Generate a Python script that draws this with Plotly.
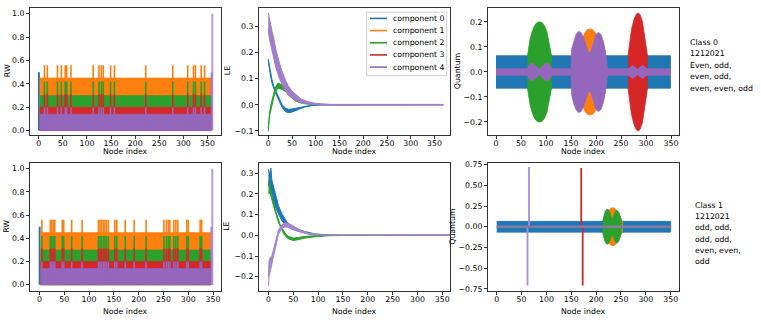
import plotly.graph_objects as go

W, H = 761, 322
FONT = "DejaVu Sans"
FS = 7.8
BLUE, ORANGE, GREEN, RED, PURPLE = "#1f77b4", "#ff7f0e", "#2ca02c", "#d62728", "#9467bd"

COMPONENTS = ["component 0", "component 1", "component 2", "component 3", "component 4"]
COMP_COLORS = [BLUE, ORANGE, GREEN, RED, PURPLE]
X_TICKS = [0, 50, 100, 150, 200, 250, 300, 350]

# ---------------- RW (random walk) panels ----------------
RW_BAND_COLORS = [ORANGE, GREEN, RED, PURPLE]
RW_BAND_TOP = [0.45, 0.30, 0.20, 0.14]
RW_SPIKE_TOP = [0.56, 0.42, 0.31, 0.20]

RW0_SPAN = [2, 357.5]
RW0_SPIKES = [12, 18, 39, 47, 55, 58, 67, 113, 125, 130, 134, 149, 157,
              222, 278, 309, 321, 325, 337, 344]
RW0_START = [0.5, 0.5]            # node, value of component 0 at start
RW0_END_X = [358.5, 360]
RW0_END_Y = [0.5, 1.0]

RW1_SPAN = [2, 345]
RW1_SPIKES = [5, 22, 25, 28, 31, 46, 49, 65, 86, 119, 122, 125, 129, 132, 135,
              139, 152, 156, 173, 191, 215, 251, 256, 260, 263, 271, 275, 279,
              297, 300, 324, 327]
RW1_START = [0.5, 0.5]
RW1_END_X = [346.5, 348.5]
RW1_END_Y = [0.5, 1.0]

# ---------------- LE (Laplacian eigenvector) panels ----------------
LE0_C0_X = [0, 2, 5, 8, 12, 16, 22, 29, 36, 42, 50, 58, 66, 78, 92, 113, 150, 368]
LE0_C0_HI = [0.175, 0.152, 0.125, 0.094, 0.07, 0.052, 0.026, 0.0, -0.012, -0.017, -0.016,
             -0.013, -0.010, -0.004, -0.001, 0.001, 0.001, 0.001]
LE0_C0_LO = [0.165, 0.135, 0.108, 0.082, 0.06, 0.042, 0.016, -0.010, -0.026, -0.030, -0.028,
             -0.022, -0.016, -0.008, -0.003, -0.001, -0.001, -0.001]

LE0_C2_X = [0, 1.5, 3, 5.5, 8, 10.5, 13, 16, 19, 22, 26, 30, 34, 38, 42, 48, 56, 66, 77, 98, 130, 368]
LE0_C2_HI = [-0.09, -0.05, -0.025, 0.0, 0.02, 0.036, 0.055, 0.07, 0.08, 0.082, 0.078, 0.074,
             0.072, 0.062, 0.05, 0.037, 0.025, 0.015, 0.009, 0.003, 0.001, 0.001]
LE0_C2_LO = [-0.102, -0.068, -0.04, -0.016, 0.004, 0.02, 0.038, 0.052, 0.06, 0.062, 0.06, 0.058,
             0.054, 0.048, 0.038, 0.027, 0.016, 0.008, 0.004, 0.0, -0.001, -0.001]

LE0_C4_X = [0, 2, 4.5, 8, 12, 16, 22, 28, 36, 42, 50, 60, 70, 85, 98, 115, 132, 368]
LE0_C4_HI = [0.352, 0.33, 0.313, 0.28, 0.25, 0.21, 0.17, 0.132, 0.095, 0.072, 0.052, 0.035,
             0.021, 0.011, 0.006, 0.003, 0.0015, 0.0015]
LE0_C4_LO = [0.29, 0.255, 0.225, 0.2, 0.172, 0.142, 0.108, 0.082, 0.054, 0.038, 0.026, 0.016,
             0.008, 0.003, 0.0005, -0.001, -0.0015, -0.0015]

LE1_C0_X = [0, 2.5, 5, 6.7, 10, 13.4, 17, 20, 27, 37, 45, 54, 64, 74, 94, 121, 150, 366]
LE1_C0_HI = [0.32, 0.295, 0.325, 0.27, 0.238, 0.207, 0.172, 0.145, 0.105, 0.065, 0.048, 0.036,
             0.025, 0.018, 0.007, 0.002, 0.001, 0.001]
LE1_C0_LO = [0.25, 0.228, 0.22, 0.2, 0.172, 0.142, 0.12, 0.102, 0.07, 0.046, 0.034, 0.024,
             0.017, 0.011, 0.003, 0.0, -0.001, -0.001]

LE1_C2_X = [0, 3.4, 7, 10, 13.5, 16.8, 20, 23.5, 27, 30, 35, 40, 50, 60, 74, 94, 121, 150, 366]
LE1_C2_HI = [0.265, 0.222, 0.188, 0.157, 0.127, 0.101, 0.076, 0.053, 0.036, 0.022, 0.006, -0.005,
             -0.013, -0.011, -0.005, -0.002, 0.0, 0.001, 0.001]
LE1_C2_LO = [0.2, 0.205, 0.172, 0.143, 0.113, 0.089, 0.064, 0.041, 0.024, 0.01, -0.006, -0.017,
             -0.025, -0.021, -0.013, -0.007, -0.002, -0.001, -0.001]

LE1_C4_X = [0, 1.3, 3, 6.7, 10, 13.4, 17, 20, 24, 27, 30, 33.5, 37, 40, 47, 54, 60, 70, 80.5,
            95, 107, 134, 366]
LE1_C4_HI = [-0.2, -0.12, -0.11, -0.1, -0.07, -0.04, -0.008, 0.026, 0.04, 0.05, 0.056, 0.06,
             0.06, 0.058, 0.05, 0.038, 0.031, 0.02, 0.011, 0.006, 0.003, 0.001, 0.001]
LE1_C4_LO = [-0.245, -0.2, -0.17, -0.14, -0.1, -0.07, -0.03, 0.005, 0.02, 0.032, 0.038, 0.04,
             0.04, 0.038, 0.032, 0.024, 0.019, 0.011, 0.005, 0.002, 0.0, -0.001, -0.001]

# ---------------- Quantum panels (symmetric amplitude envelopes) ----------------
Q0_BLUE_X = [0, 349]
Q0_BLUE_A = [0.065, 0.065]
Q0_GREEN_X = [63, 65, 68, 72, 77, 82, 87, 92, 97, 102, 106, 109, 111]
Q0_GREEN_A = [0.065, 0.1, 0.13, 0.16, 0.185, 0.198, 0.2, 0.198, 0.185, 0.16, 0.12, 0.085, 0.065]
Q0_ORANGE_X = [168, 172, 177, 182, 188, 194, 199, 204, 208]
Q0_ORANGE_A = [0.06, 0.12, 0.155, 0.168, 0.172, 0.168, 0.155, 0.12, 0.06]
Q0_RED_X = [264, 267, 271, 276, 281, 284, 288, 293, 298, 301, 303]
Q0_RED_A = [0.065, 0.12, 0.17, 0.21, 0.232, 0.236, 0.23, 0.2, 0.14, 0.09, 0.065]
Q0_PURPLE_X = [0, 63, 66, 71, 76, 81, 87, 92, 97, 103, 108, 111, 150, 151, 156, 160, 165,
               170, 175, 180, 185, 190, 195, 200, 205, 210, 215, 219, 222, 224, 264, 268,
               273, 278, 283, 288, 293, 298, 302, 349]
Q0_PURPLE_A = [0.013, 0.013, 0.028, 0.035, 0.032, 0.022, 0.01, 0.022, 0.032, 0.035, 0.028,
               0.013, 0.013, 0.09, 0.13, 0.15, 0.162, 0.158, 0.14, 0.11, 0.078, 0.082, 0.12,
               0.15, 0.158, 0.15, 0.12, 0.08, 0.03, 0.013, 0.013, 0.02, 0.025, 0.02, 0.01,
               0.02, 0.025, 0.02, 0.013, 0.013]

Q1_BLUE_X = [0, 350]
Q1_BLUE_A = [0.065, 0.065]
Q1_ORANGE_X = [218, 222, 226, 230, 234, 238, 242, 247, 253]
Q1_ORANGE_A = [0.06, 0.14, 0.2, 0.225, 0.23, 0.22, 0.19, 0.13, 0.06]
Q1_GREEN_X = [213, 215, 218, 221, 225, 229, 232, 235, 239, 242, 246, 249, 251]
Q1_GREEN_A = [0.065, 0.12, 0.18, 0.21, 0.205, 0.15, 0.09, 0.13, 0.19, 0.2, 0.17, 0.12, 0.065]
Q1_PURPLE_X = [0, 350]
Q1_PURPLE_A = [0.01, 0.01]
Q1_SPIKE_COLORS = ["#a98bd3", RED]
Q1_SPIKE_UP_X = [65, 170]
Q1_SPIKE_UP_Y = [0.72, 0.71]
Q1_SPIKE_DN_X = [62, 173]
Q1_SPIKE_DN_Y = [-0.71, -0.71]

CLASS0_TEXT = ["Class 0", "1212021", "Even, odd,", "even, odd,", "even, even, odd"]
CLASS1_TEXT = ["Class 1", "1212021", "odd, odd,", "odd, odd,", "even, even,", "odd"]

# ---------------- layout geometry (pixels) ----------------
COL_L = [30, 259, 488]
COL_R = [221, 450, 679]
ROW_T = [5, 163]
ROW_B = [134, 293]
XLABEL_Y = [151, 314]


def px(x):
    return x / W


def py(y):
    return 1 - y / H


fig = go.Figure()


def ax_names(n):
    return ("x" if n == 1 else f"x{n}"), ("y" if n == 1 else f"y{n}")


def poly(n, x, hi, lo, color, width=1.0):
    xa, ya = ax_names(n)
    fig.add_trace(go.Scatter(
        x=list(x) + list(x)[::-1], y=list(hi) + list(lo)[::-1],
        mode="lines", fill="toself", fillcolor=color,
        line=dict(color=color, width=width),
        hoverinfo="skip", showlegend=False, xaxis=xa, yaxis=ya))


def lens(n, x, amp, color):
    poly(n, x, amp, [-a for a in amp], color, width=0.8)


def vlines(n, xs, y0s, y1s, color, width):
    xa, ya = ax_names(n)
    vx, vy = [], []
    for x, a, b in zip(xs, y0s, y1s):
        vx += [x, x, None]
        vy += [a, b, None]
    fig.add_trace(go.Scatter(x=vx, y=vy, mode="lines", line=dict(color=color, width=width),
                             hoverinfo="skip", showlegend=False, xaxis=xa, yaxis=ya))


def rw_panel(n, span, spikes, start, end_x, end_y):
    vlines(n, [start[0]], [0], [start[1]], BLUE, 2)
    for color, top, spike_top in zip(RW_BAND_COLORS, RW_BAND_TOP, RW_SPIKE_TOP):
        poly(n, span, [top, top], [0, 0], color, width=0.6)
        vlines(n, spikes, [0] * len(spikes), [spike_top] * len(spikes), color, 1.6)
    vlines(n, end_x, [0, 0], end_y, "rgba(148,103,189,0.65)", 2)


# panel 1 / 4: RW
rw_panel(1, RW0_SPAN, RW0_SPIKES, RW0_START, RW0_END_X, RW0_END_Y)
rw_panel(4, RW1_SPAN, RW1_SPIKES, RW1_START, RW1_END_X, RW1_END_Y)

# panel 2 / 5: LE
poly(2, LE0_C0_X, LE0_C0_HI, LE0_C0_LO, BLUE)
poly(2, LE0_C2_X, LE0_C2_HI, LE0_C2_LO, GREEN)
poly(2, LE0_C4_X, LE0_C4_HI, LE0_C4_LO, "#a07ccb")
poly(5, LE1_C0_X, LE1_C0_HI, LE1_C0_LO, BLUE)
poly(5, LE1_C2_X, LE1_C2_HI, LE1_C2_LO, GREEN)
poly(5, LE1_C4_X, LE1_C4_HI, LE1_C4_LO, "#a586cf")

# panel 3 / 6: Quantum
lens(3, Q0_BLUE_X, Q0_BLUE_A, BLUE)
lens(3, Q0_ORANGE_X, Q0_ORANGE_A, ORANGE)
lens(3, Q0_GREEN_X, Q0_GREEN_A, GREEN)
lens(3, Q0_RED_X, Q0_RED_A, RED)
lens(3, Q0_PURPLE_X, Q0_PURPLE_A, PURPLE)

lens(6, Q1_BLUE_X, Q1_BLUE_A, BLUE)
lens(6, Q1_ORANGE_X, Q1_ORANGE_A, ORANGE)
lens(6, Q1_GREEN_X, Q1_GREEN_A, GREEN)
for i, c in enumerate(Q1_SPIKE_COLORS):
    vlines(6, [Q1_SPIKE_UP_X[i]], [0], [Q1_SPIKE_UP_Y[i]], c, 1.8)
    vlines(6, [Q1_SPIKE_DN_X[i]], [0], [Q1_SPIKE_DN_Y[i]], c, 1.8)
lens(6, Q1_PURPLE_X, Q1_PURPLE_A, "#8e7aa6")

# ---------------- axes ----------------
PANELS = [
    # n, col, row, xrange, yrange, yticks, yfmt
    (1, 0, 0, [-18, 378], [-0.034, 1.05], [0, 0.2, 0.4, 0.6, 0.8, 1.0], ".1f"),
    (2, 1, 0, [-19.5, 382.5], [-0.1135, 0.37], [-0.1, 0, 0.1, 0.2, 0.3], ".1f"),
    (3, 2, 0, [-16, 366], [-0.25, 0.256], [-0.2, -0.1, 0, 0.1, 0.2], ".1f"),
    (4, 0, 1, [-19, 366], [-0.05, 1.05], [0, 0.2, 0.4, 0.6, 0.8, 1.0], ".1f"),
    (5, 1, 1, [-19, 365.5], [-0.267, 0.35], [-0.2, -0.1, 0, 0.1, 0.2, 0.3], ".1f"),
    (6, 2, 1, [-17.5, 366.7], [-0.77, 0.77], [-0.75, -0.5, -0.25, 0, 0.25, 0.5, 0.75], ".2f"),
]
common = dict(showline=True, mirror=True, linecolor="#333", linewidth=1, ticks="outside",
              ticklen=3, tickwidth=0.8, tickcolor="#333", showgrid=False, zeroline=False,
              fixedrange=True, tickfont=dict(family=FONT, size=FS, color="#000"))
axes = {}
for n, col, row, xr, yr, yt, fmt in PANELS:
    sfx = "" if n == 1 else str(n)
    xa, ya = ax_names(n)
    axes["xaxis" + sfx] = dict(common, domain=[px(COL_L[col]), px(COL_R[col])], range=xr,
                               tickvals=X_TICKS, anchor=ya, ticklabelstandoff=-2)
    axes["yaxis" + sfx] = dict(common, domain=[py(ROW_B[row]), py(ROW_T[row])], range=yr,
                               tickvals=yt, tickformat=fmt, anchor=xa)

annotations = []
text_font = dict(family=FONT, size=FS, color="#000")
for row in range(2):
    yc = (ROW_T[row] + ROW_B[row]) / 2
    for col, (label, lx) in enumerate(zip(["RW", "LE", "Quantum"], [7, 227, [457, 453][row]])):
        annotations.append(dict(x=px(lx), y=py(yc), xref="paper", yref="paper", text=label,
                                textangle=-90, showarrow=False, font=text_font,
                                xanchor="center", yanchor="middle"))
        annotations.append(dict(x=px((COL_L[col] + COL_R[col]) / 2), y=py(XLABEL_Y[row]),
                                xref="paper", yref="paper", text="Node index", showarrow=False,
                                font=text_font, xanchor="center", yanchor="middle"))

for i, t in enumerate(CLASS0_TEXT):
    annotations.append(dict(x=px(688), y=py(40 + 11.7 * i), xref="paper", yref="paper", text=t,
                            showarrow=False, font=text_font, xanchor="left", yanchor="middle"))
for i, t in enumerate(CLASS1_TEXT):
    annotations.append(dict(x=px(693), y=py(206 + 11.5 * i), xref="paper", yref="paper", text=t,
                            showarrow=False, font=text_font, xanchor="left", yanchor="middle"))

# legend (drawn by hand to match matplotlib's compact spacing)
shapes = [dict(type="rect", xref="paper", yref="paper", x0=px(366.7), x1=px(446.7),
               y0=py(74), y1=py(9.3), line=dict(color="#d0d0d0", width=1),
               fillcolor="rgba(255,255,255,0.85)", layer="above")]
for i, (name, c) in enumerate(zip(COMPONENTS, COMP_COLORS)):
    yy = py(15.7 + 12.4 * i)
    shapes.append(dict(type="line", xref="paper", yref="paper", x0=px(370), x1=px(387),
                       y0=yy, y1=yy, line=dict(color=c, width=1.6), layer="above"))
    annotations.append(dict(x=px(391), y=yy, xref="paper", yref="paper", text=name,
                            showarrow=False, font=text_font, xanchor="left", yanchor="middle"))

fig.update_layout(
    width=W, height=H, margin=dict(l=0, r=0, t=0, b=0),
    paper_bgcolor="white", plot_bgcolor="white", showlegend=False,
    font=dict(family=FONT, size=FS, color="#000"),
    annotations=annotations, shapes=shapes, **axes,
)

# the page's default body margin would shift the fixed-size figure by 8px
fig.write_html("out.html", config={"displayModeBar": False},
               post_script="document.body.style.margin='0';")
